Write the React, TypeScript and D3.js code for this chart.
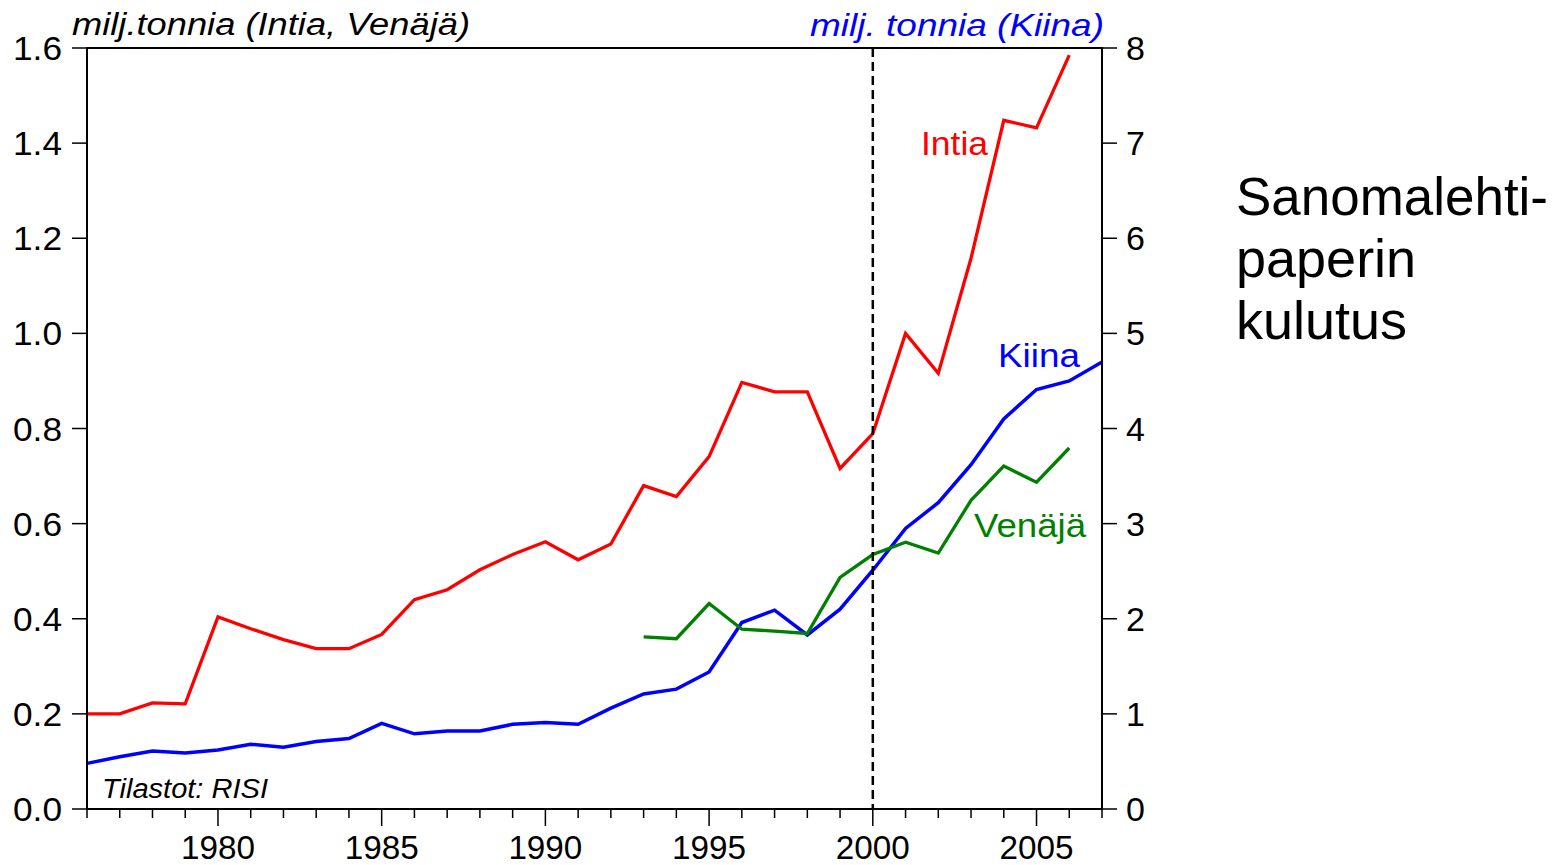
import React from "react";
import * as d3 from "d3";

const years: number[] = d3.range(1976, 2008);
const intia: number[] = [0.2, 0.2, 0.223, 0.221, 0.404, 0.379, 0.356, 0.337, 0.337, 0.367, 0.44, 0.461, 0.503, 0.535, 0.562, 0.524, 0.557, 0.68, 0.657, 0.741, 0.897, 0.877, 0.877, 0.716, 0.789, 1.0, 0.916, 1.158, 1.448, 1.432, 1.585];
const kiina: number[] = [0.48, 0.55, 0.61, 0.59, 0.62, 0.68, 0.65, 0.71, 0.74, 0.9, 0.79, 0.82, 0.82, 0.89, 0.91, 0.89, 1.06, 1.21, 1.26, 1.44, 1.96, 2.09, 1.83, 2.1, 2.51, 2.95, 3.22, 3.62, 4.1, 4.41, 4.5, 4.7];
const venajaStart = 1993;
const venaja: number[] = [0.362, 0.358, 0.432, 0.378, 0.374, 0.369, 0.487, 0.535, 0.561, 0.538, 0.649, 0.721, 0.687, 0.759];
const leftTicks: number[] = [0, 0.2, 0.4, 0.6, 0.8, 1.0, 1.2, 1.4, 1.6];
const rightTicks: number[] = [0, 1, 2, 3, 4, 5, 6, 7, 8];
const markerYear = 2000;

const W = 1563, H = 865;
const L = 87, R = 1102, T = 48, B = 809;
const FONT = "'Liberation Sans', Arial, Helvetica, sans-serif";

export default function App() {
  const x = d3.scaleLinear().domain([1976, 2007]).range([L, R]);
  const yL = d3.scaleLinear().domain([0, 1.6]).range([B, T]);
  const yR = d3.scaleLinear().domain([0, 8]).range([B, T]);

  const lineL = d3.line<[number, number]>().x(d => x(d[0])).y(d => yL(d[1]));
  const lineR = d3.line<[number, number]>().x(d => x(d[0])).y(d => yR(d[1]));

  const intiaPts: [number, number][] = intia.map((v, i) => [years[i], v]);
  const kiinaPts: [number, number][] = kiina.map((v, i) => [years[i], v]);
  const venajaPts: [number, number][] = venaja.map((v, i) => [venajaStart + i, v]);

  return (
    <svg width={W} height={H} style={{ position: "absolute", left: 0, top: 0, background: "#fff" }} fontFamily={FONT}>
      <rect x={0} y={0} width={W} height={H} fill="#fff" />
      {/* series */}
      <path d={lineL(intiaPts) || ""} fill="none" stroke="#ff0000" strokeWidth={3.3} />
      <path d={lineR(kiinaPts) || ""} fill="none" stroke="#0000ff" strokeWidth={3.5} />
      <path d={lineL(venajaPts) || ""} fill="none" stroke="#008000" strokeWidth={3.3} />
      {/* dashed vertical line */}
      <line x1={x(markerYear)} x2={x(markerYear)} y1={T} y2={B} stroke="#000" strokeWidth={2.5} strokeDasharray="9,5" />
      {/* frame */}
      <rect x={L} y={T} width={R - L} height={B - T} fill="none" stroke="#000" strokeWidth={2} />
      {/* left axis */}
      {leftTicks.map(t => (
        <g key={"l" + t}>
          <line x1={L - 15} x2={L} y1={yL(t)} y2={yL(t)} stroke="#000" strokeWidth={1.5} />
          <text x={62} y={yL(t) + 12} textAnchor="end" fontSize={34} fill="#000" textLength={49} lengthAdjust="spacingAndGlyphs">{t.toFixed(1)}</text>
        </g>
      ))}
      {/* right axis */}
      {rightTicks.map(t => (
        <g key={"r" + t}>
          <line x1={R} x2={R + 15} y1={yR(t)} y2={yR(t)} stroke="#000" strokeWidth={1.5} />
          <text x={1126} y={yR(t) + 12} textAnchor="start" fontSize={34} fill="#000">{t}</text>
        </g>
      ))}
      {/* bottom axis */}
      {years.map(yr => (
        <line key={"b" + yr} x1={x(yr)} x2={x(yr)} y1={B} y2={B + (yr % 5 === 0 ? 17 : 9)} stroke="#000" strokeWidth={1.5} />
      ))}
      {years.filter(yr => yr % 5 === 0).map(yr => (
        <text key={"bl" + yr} x={x(yr)} y={859} textAnchor="middle" fontSize={34} fill="#000" textLength={74} lengthAdjust="spacingAndGlyphs">{yr}</text>
      ))}
      {/* axis titles */}
      <text x={72} y={35} fontSize={31} fontStyle="italic" fill="#000" textLength={398} lengthAdjust="spacingAndGlyphs">milj.tonnia (Intia, Venäjä)</text>
      <text x={810} y={36} fontSize={32} fontStyle="italic" fill="#0000ff" textLength={294} lengthAdjust="spacingAndGlyphs">milj. tonnia (Kiina)</text>
      {/* series labels */}
      <text x={921} y={155} fontSize={33} fill="#ff0000" textLength={67} lengthAdjust="spacingAndGlyphs">Intia</text>
      <text x={998} y={367} fontSize={33} fill="#0000ff" textLength={82} lengthAdjust="spacingAndGlyphs">Kiina</text>
      <text x={974} y={537} fontSize={33} fill="#008000" textLength={112} lengthAdjust="spacingAndGlyphs">Venäjä</text>
      <text x={102} y={798} fontSize={27} fontStyle="italic" fill="#000" textLength={166} lengthAdjust="spacingAndGlyphs">Tilastot: RISI</text>
      {/* side title */}
      <text x={1236} y={215} fontSize={54} fill="#000" textLength={312} lengthAdjust="spacingAndGlyphs">Sanomalehti-</text>
      <text x={1236} y={277} fontSize={54} fill="#000">paperin</text>
      <text x={1236} y={339} fontSize={54} fill="#000">kulutus</text>
    </svg>
  );
}
